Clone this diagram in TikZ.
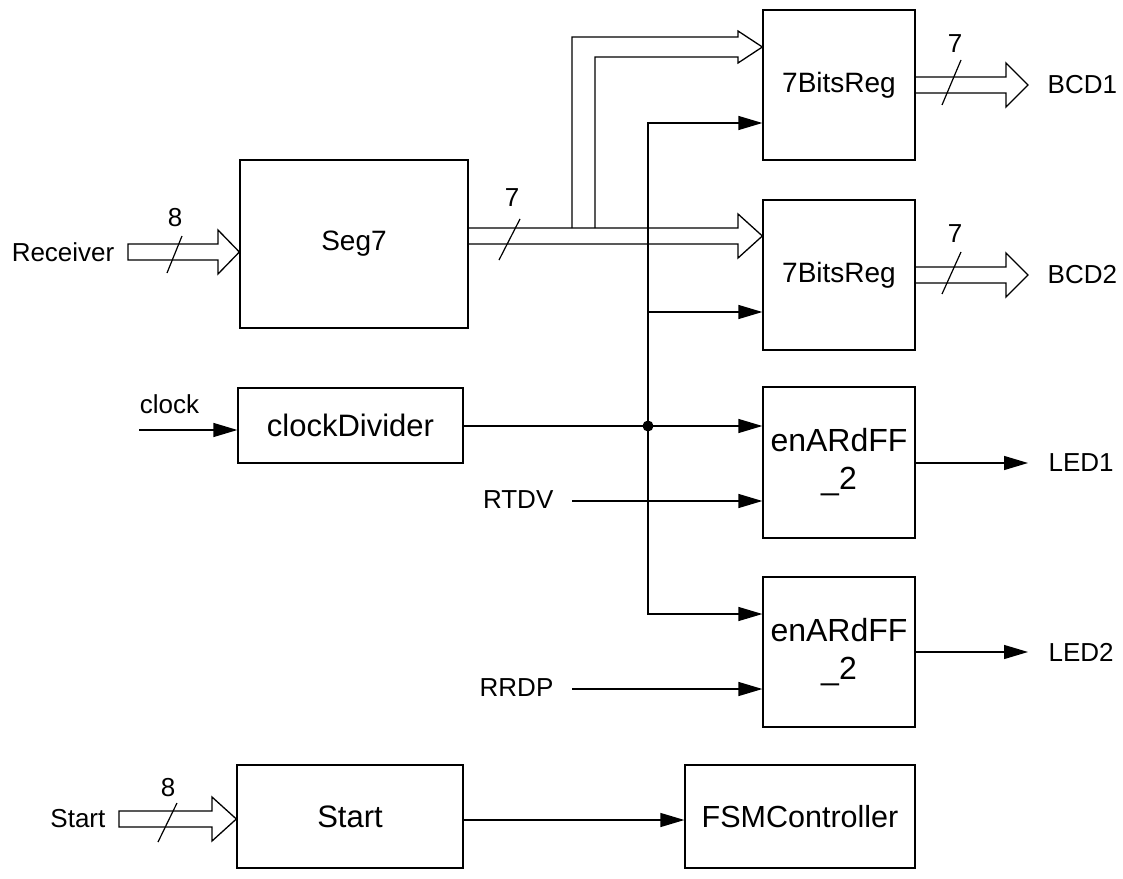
\documentclass[tikz,border=0pt]{standalone}
\usepackage{fontspec}
\setmainfont{Liberation Sans}
\usetikzlibrary{arrows.meta,calc}
\begin{document}
\begin{tikzpicture}[x=1pt,y=-1pt,line width=1.3pt,
  box/.style={draw,inner sep=0pt,align=center},
  bigf/.style={font=\fontsize{#1}{38}\selectfont},
  lbl/.style={inner sep=0pt,font=\fontsize{26}{30}\selectfont},
  sig/.style={-{Triangle[length=24pt,width=14pt]}},
  bus/.style={line join=miter},
  slash/.style={line width=1.2pt}]
\path[use as bounding box] (0,0) rectangle (1123,878);

% blocks
\node[box,bigf=28,minimum width=228pt,minimum height=168pt] (seg7) at (354,244) {Seg7};
\node[box,bigf=28,minimum width=152pt,minimum height=150pt] (reg1) at (839,85) {7BitsReg};
\node[box,bigf=28,minimum width=152pt,minimum height=150pt] (reg2) at (839,275) {7BitsReg};
\node[box,bigf=31,minimum width=225pt,minimum height=75pt] (clkdiv) at (350.5,425.5) {clockDivider};
\node[box,bigf=32,minimum width=152pt,minimum height=151pt] (ff1) at (839,462.5) {enARdFF\\\_2};
\node[box,bigf=32,minimum width=152pt,minimum height=150pt] (ff2) at (839,652) {enARdFF\\\_2};
\node[box,bigf=31,minimum width=226pt,minimum height=103pt] (startb) at (350,816.5) {Start};
\node[box,bigf=30.5,minimum width=230pt,minimum height=103pt] (fsm) at (800,816.5) {FSMController};

% side labels
\node[lbl,anchor=east] (rcv) at (115,252) {Receiver};
\node[lbl] (clk) at (169.5,404) {clock};
\node[lbl,anchor=east] (rtdv) at (554,500) {RTDV};
\node[lbl,anchor=east] (rrdp) at (554,688) {RRDP};
\node[lbl,anchor=east] (st) at (106,819) {Start};
\node[lbl,anchor=west] (bcd1) at (1047,85) {BCD1};
\node[lbl,anchor=west] (bcd2) at (1047,275) {BCD2};
\node[lbl,anchor=west] (led1) at (1048,463) {LED1};
\node[lbl,anchor=west] (led2) at (1048,652) {LED2};
\node[lbl] (w1) at (175,218) {8};
\node[lbl] (w2) at (512,198) {7};
\node[lbl] (w3) at (955,44) {7};
\node[lbl] (w4) at (955,234) {7};
\node[lbl] (w5) at (168,788) {8};

\coordinate (bcd1tip) at (1028,85);
\coordinate (bcd2tip) at (1028,275);
\coordinate (led1tip) at (1028,463);
\coordinate (led2tip) at (1028,652);

% buses
\draw[bus] (128,244) -- (218,244) -- (218,230) -- (seg7.west |- 0,252)
  -- (218,274) -- (218,260) -- (128,260) -- cycle;
\draw[slash] (167,273) -- (182,236);

\draw[bus] (seg7.east |- 0,228) -- (738,228) -- (738,214) -- (reg2.west |- 0,236)
  -- (738,258) -- (738,244) -- (seg7.east |- 0,244);
\draw[bus] (572,228) -- (572,37) -- (738,37) -- (738,31) -- (reg1.west |- 0,47)
  -- (738,63) -- (738,57) -- (595,57) -- (595,228);
\draw[slash] (499,260) -- (520,219);

\draw[bus] (reg1.east |- 0,77) -- (1006,77) -- (1006,63) -- (bcd1tip)
  -- (1006,107) -- (1006,93) -- (reg1.east |- 0,93);
\draw[slash] (942,105) -- (961,60);
\draw[bus] (reg2.east |- 0,267) -- (1006,267) -- (1006,253) -- (bcd2tip)
  -- (1006,297) -- (1006,283) -- (reg2.east |- 0,283);
\draw[slash] (942,294) -- (961,252);

\draw[bus] (119,811) -- (212,811) -- (212,797) -- (startb.west |- 0,819)
  -- (212,841) -- (212,827) -- (119,827) -- cycle;
\draw[slash] (158,842) -- (177,803);

% control signals
\coordinate (j) at (648,426);
\draw[sig] (j) -- (648,123) -- (reg1.west |- 0,123);
\draw[sig] (648,312) -- (reg2.west |- 0,312);
\draw[sig] (clkdiv.east |- 0,426) -- (ff1.west |- 0,426);
\draw[sig] (j) -- (648,614) -- (ff2.west |- 0,614);
\fill (j) circle (5.5);
\draw[sig] (139,430) -- (clkdiv.west |- 0,430);
\draw[sig] ($(rtdv.east)+(18,1)$) -- (ff1.west |- 0,501);
\draw[sig] ($(rrdp.east)+(18,1)$) -- (ff2.west |- 0,689);
\draw[sig] (ff1.east |- 0,463) -- (led1tip);
\draw[sig] (ff2.east |- 0,652) -- (led2tip);
\draw[sig] (startb.east |- 0,820) -- (fsm.west |- 0,820);
\end{tikzpicture}
\end{document}
